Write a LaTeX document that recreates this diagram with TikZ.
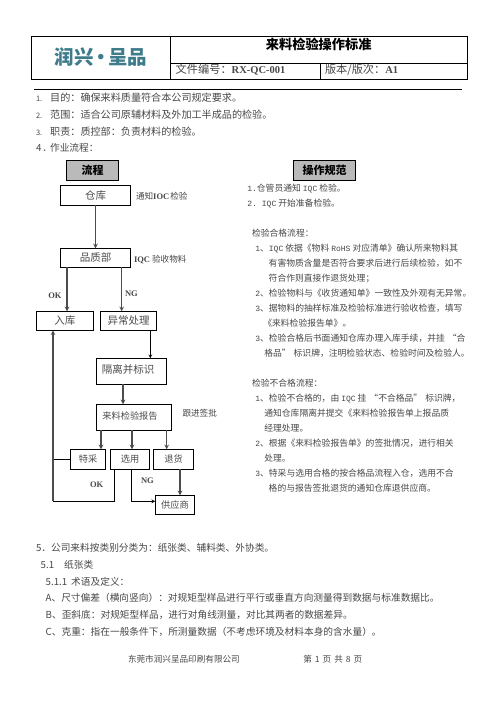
\documentclass[tikz,border=0pt]{standalone}
\usepackage{fontspec}
\setmainfont{Noto Sans CJK SC}
\newfontfamily\latserif{Liberation Serif}
\newfontfamily\latmono{Liberation Mono}
\usetikzlibrary{positioning}
\definecolor{logoteal}{RGB}{62,124,140}
\newcommand{\sizept}[1]{\fontsize{#1}{#1}\selectfont}
\newcommand{\mono}[1]{{\latmono\sizept{8}#1}}
\newcommand{\bser}[1]{{\latserif\bfseries\sizept{8.5}#1}}

\begin{document}
\begin{tikzpicture}[
        x=1pt, y=-1pt,
        box/.style={rectangle, draw=black, line width=0.7pt, fill=white, inner sep=0pt, outer sep=0pt, text=black!70, font=\sizept{10.5}},
        headbox/.style={rectangle, draw=black, line width=0.9pt, fill=black!27, inner sep=0pt, outer sep=0pt, minimum width=62pt, minimum height=20.4pt, font=\sizept{11}\bfseries},
        txt/.style={anchor=west, inner sep=0pt, outer sep=0pt, text=black!72, text height=7pt, text depth=1.6pt, font=\sizept{9.7}},
        spec/.style={txt, font=\sizept{8.8}},
        tag/.style={txt, font=\sizept{8.6}},
        arrow/.style={->, >=stealth, line width=1.1pt, black!70},
        thinarrow/.style={->, >=stealth, line width=0.7pt, black},
        thinline/.style={line width=0.7pt, black}
    ]
    \useasboundingbox (0,0) rectangle (496,702);

    % Header table
    \draw[line width=0.8pt] (31.7,36.7) rectangle (467.7,79.3);
    \draw[line width=0.8pt] (170.7,36.7) -- (170.7,79.3);
    \draw[line width=0.8pt] (170.7,63.3) -- (467.7,63.3);
    \draw[line width=0.8pt] (320.3,63.3) -- (320.3,79.3);
    \draw[line width=0.8pt] (34,89.3) -- (462,89.3);
    \node[inner sep=0pt, text=logoteal, font=\sizept{19.5}\bfseries] (logo) at (101,57.5) {润兴\hspace{-2.5pt}·\hspace{-2.5pt}呈品};
    \node[inner sep=0pt, font=\sizept{13.2}\bfseries] (title) at (318.7,44.7) {来料检验操作标准};
    \node[txt, font=\sizept{11.2}] (docno) at (175.7,71) {文件编号：{\latserif\sizept{10.5}\bfseries RX-QC-001}};
    \node[txt, font=\sizept{11.2}] (docver) at (325,71) {版本/版次：{\latserif\sizept{10.5}\bfseries A1}};

    % Intro lines
    \node[txt] (intro1) at (36,98.7) {\sizept{7.5}1.\hspace{8pt}\sizept{10.1}目的：确保来料质量符合本公司规定要求。};
    \node[txt] (intro2) at (36,115.7) {\sizept{7.5}2.\hspace{8pt}\sizept{10.1}范围：适合公司原辅材料及外加工半成品的检验。};
    \node[txt] (intro3) at (36,132.7) {\sizept{7.5}3.\hspace{8pt}\sizept{10.1}职责：质控部：负责材料的检验。};
    \node[txt] (intro4) at (36,149) {4\hspace{1pt}．\hspace{-2pt}作业流程：};

    % Column heads
    \node[headbox, minimum width=52pt] (flowhead) at (92.7,170.5) {流程};
    \node[headbox] (spechead) at (324.5,170.5) {操作规范};

    % Flow chart
    \node[box, minimum width=70.4pt, minimum height=19.6pt] (stock) at (95.5,195.5) {仓库};
    \node[box, minimum width=70.4pt, minimum height=19pt, below=43pt of stock] (quality) {品质部};
    \node[box, minimum width=57pt, minimum height=19pt] (storein) at (64.8,320.8) {入库};
    \node[box, minimum width=56.4pt, minimum height=19pt, right=7pt of storein] (abnormal) {异常处理};
    \node[box, minimum width=70.4pt, minimum height=26pt] (isolate) at (131.5,371.3) {\hspace*{-7pt}\raisebox{3.6pt}{隔离并标识}};
    \node[box, minimum width=75.4pt, minimum height=26pt, below=20pt of isolate, xshift=2.5pt, font=\sizept{9.2}] (report) {\hspace*{-8pt}\raisebox{3.3pt}{来料检验报告}};
    \node[box, minimum width=35.4pt, minimum height=20pt, font=\sizept{9.2}] (special) at (88,459.3) {特采};
    \node[box, minimum width=39.4pt, minimum height=20pt, right=4.6pt of special, font=\sizept{9.2}] (select) {选用};
    \node[box, minimum width=40.4pt, minimum height=20pt, right=3.6pt of select, font=\sizept{9.2}] (reject) {退货};
    \node[box, minimum width=39.4pt, minimum height=19pt, font=\sizept{9.2}] (supplier) at (175,504.8) {供应商};
    \coordinate (corner) at (53,501.3);

    % Flow labels
    \node[tag] (tellnote) at (136,196.5) {通知{\latserif\bfseries\sizept{8.5}IOC}\hspace{1pt}检验};
    \node[tag] (checknote) at (134,260) {\bser{IQC}\hspace{2pt}验收物料};
    \node[txt] (okleft) at (48.3,296) {\bser{OK}};
    \node[txt] (ngright) at (125,294) {\bser{NG}};
    \node[tag] (signnote) at (182.5,414) {跟进签批};
    \node[txt] (oklow) at (90,484.7) {\bser{OK}};
    \node[txt] (nglow) at (141,481) {\bser{NG}};

    % Arrows
    \draw[arrow] (stock) -- (quality);
    \draw[arrow] ([xshift=-28.5pt]quality.south) -- ([xshift=2.2pt]storein.north);
    \draw[arrow] ([xshift=26.2pt]quality.south) -- ([xshift=-6.8pt]abnormal.north);
    \draw[thinarrow] ([xshift=21.8pt]abnormal.south) -- ([xshift=18.8pt]isolate.north);
    \draw[arrow] ([xshift=-8.5pt]isolate.south) -- ([xshift=-11pt]report.north);
    \draw[arrow] ([xshift=-33pt]report.south) -- ([xshift=13pt]special.north);
    \draw[arrow] ([xshift=-2pt]report.south) -- ([xshift=2pt]select.north);
    \draw[arrow] ([xshift=32.7pt]report.south) -- ([xshift=-6.8pt]reject.north);
    \draw[arrow] ([xshift=6.5pt]reject.south) -- ([xshift=5pt]supplier.north);
    \draw[thinarrow] ([xshift=1.7pt]select.south) |- ([yshift=3.5pt]supplier.west);
    \draw[thinline] ([xshift=-15.3pt]select.south) |- (corner);
    \draw[thinline] (special.west) -- (special.west -| corner);
    \draw[arrow] (corner) -- (corner |- storein.south);

    % Operation notes
    \node[spec] (note1) at (247.3,189) {\mono{1.}仓管员通知\hspace{2pt}\mono{IQC}\hspace{2pt}检验。};
    \node[spec] (note2) at (247.3,204) {\mono{2.}\hspace{5pt}\mono{IQC}\hspace{2pt}开始准备检验。};

    \node[spec] (passhead) at (252,234) {检验合格流程：};
    \node[spec] (pass1) at (255.3,249) {\mono{1}、\mono{IQC}\hspace{2pt}依据《物料\hspace{2pt}\mono{RoHS}\hspace{2pt}对应清单》确认所来物料其};
    \node[spec] (pass1b) at (268.7,264) {有害物质含量是否符合要求后进行后续检验，如不};
    \node[spec] (pass1c) at (268.7,279) {符合作则直接作退货处理；};
    \node[spec] (pass2) at (255.3,294) {\mono{2}、检验物料与《收货通知单》一致性及外观有无异常。};
    \node[spec] (pass3) at (255.3,309) {\mono{3}、据物料的抽样标准及检验标准进行验收检查，填写};
    \node[spec] (pass3b) at (263.3,323.7) {《来料检验报告单》。};
    \node[spec] (pass4) at (255.3,339) {\mono{3}、检验合格后书面通知仓库办理入库手续，并挂\hspace{3pt}“合};
    \node[spec] (pass4b) at (264.3,354) {格品”\hspace{3pt}标识牌，注明检验状态、检验时间及检验人。};

    \node[spec] (failhead) at (252,384) {检验不合格流程：};
    \node[spec] (fail1) at (255.3,399) {\mono{1}、检验不合格的，由\hspace{2pt}\mono{IQC}\hspace{2pt}挂\hspace{3pt}“不合格品”\hspace{3pt}标识牌，};
    \node[spec] (fail1b) at (264.3,414) {通知仓库隔离并提交《来料检验报告单上报品质};
    \node[spec] (fail1c) at (264.3,429) {经理处理。};
    \node[spec] (fail2) at (255.3,444) {\mono{2}、根据《来料检验报告单》的签批情况，进行相关};
    \node[spec] (fail2b) at (264.3,459) {处理。};
    \node[spec] (fail3) at (255.3,474) {\mono{3}、特采与选用合格的按合格品流程入仓，选用不合};
    \node[spec] (fail3b) at (268.7,489) {格的与报告签批退货的通知仓库退供应商。};

    % Lower text
    \node[txt] (class5) at (36,548.7) {5．公司来料按类别分类为：纸张类、辅料类、外协类。};
    \node[txt] (class51) at (40.7,565.7) {5.1\hspace{10pt}纸张类};
    \node[txt] (class511) at (45.7,582.7) {5.1.1\hspace{4pt}术语及定义：};
    \node[txt] (termA) at (45.7,598.7) {A、尺寸偏差（横向竖向）：对规矩型样品进行平行或垂直方向测量得到数据与标准数据比。};
    \node[txt] (termB) at (45.7,615.7) {B、歪斜底：对规矩型样品，进行对角线测量，对比其两者的数据差异。};
    \node[txt] (termC) at (45.7,632.7) {C、克重：指在一般条件下，所测量数据（不考虑环境及材料本身的含水量）。};

    % Footer
    \node[spec, font=\sizept{8.6}] (company) at (128,659.7) {东莞市润兴呈品印刷有限公司};
    \node[spec, font=\sizept{8.6}] (pageno) at (303.3,659.7) {第\hspace{3pt}1\hspace{3pt}页\hspace{3pt}共\hspace{3pt}8\hspace{3pt}页};

\end{tikzpicture}
\end{document}
